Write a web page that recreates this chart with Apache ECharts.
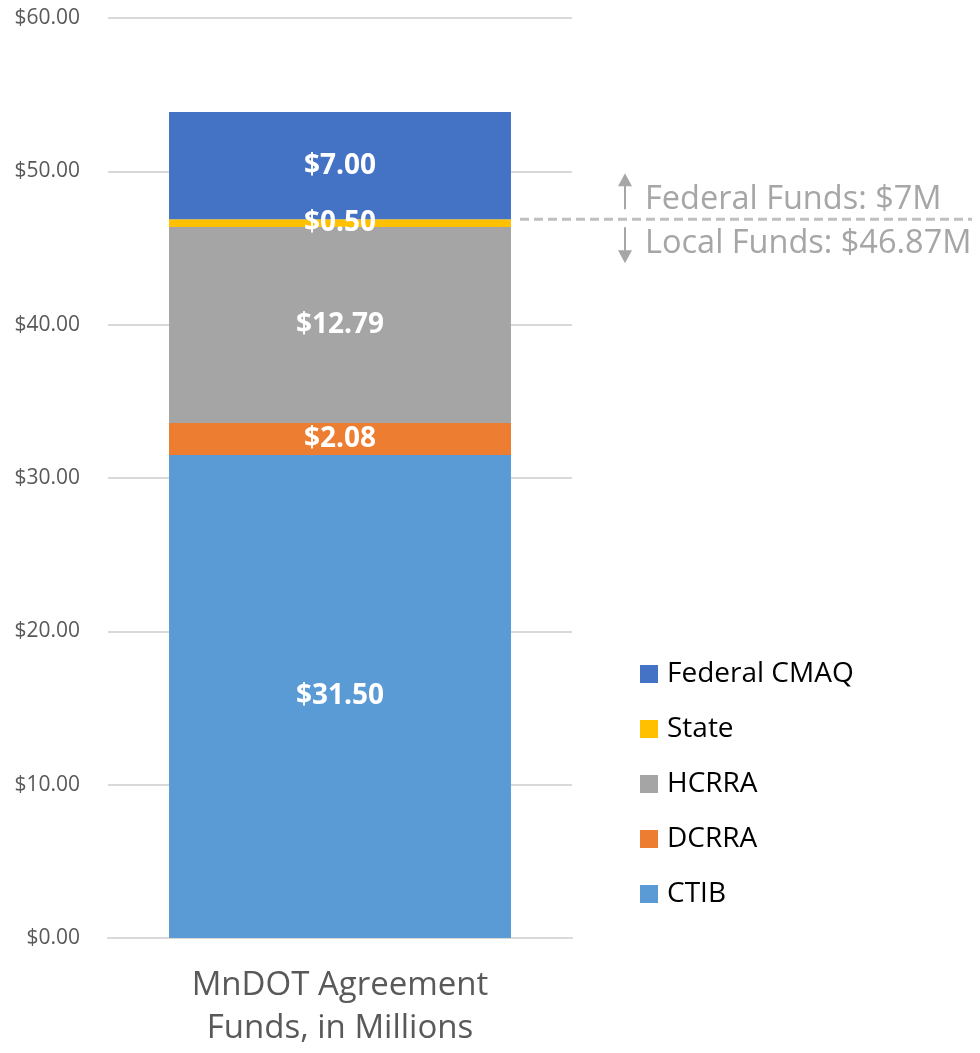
<!DOCTYPE html>
<html>
<head>
<meta charset="utf-8">
<script src="https://cdn.jsdelivr.net/npm/echarts@6/dist/echarts.min.js"></script>
<style>
  html, body { margin: 0; padding: 0; background: #fff; }
  #main { width: 980px; height: 1053px; }
</style>
</head>
<body>
<div id="main"></div>
<script>
// data
var categories = ['MnDOT Agreement\nFunds, in Millions'];
var seriesNames = ['CTIB', 'DCRRA', 'HCRRA', 'State', 'Federal CMAQ'];
var ctib = [31.50];
var dcrra = [2.08];
var hcrra = [12.79];
var state = [0.50];
var federal = [7.00];
var legendOrder = ['Federal CMAQ', 'State', 'HCRRA', 'DCRRA', 'CTIB'];
var colors = ['#5B9BD5', '#ED7D31', '#A5A5A5', '#FFC000', '#4472C4'];
var federalTotal = 7;
var localTotal = 46.87;

var font = '"Open Sans", "Noto Sans", sans-serif';
var values = [ctib, dcrra, hcrra, state, federal];

var myChart = echarts.init(document.getElementById('main'));

var series = seriesNames.map(function (name, i) {
    return {
        name: name,
        type: 'bar',
        stack: 'total',
        barWidth: '73.7%',
        itemStyle: { color: colors[i] },
        label: {
            show: true,
            position: 'inside',
            color: '#fff',
            fontSize: 28,
            fontWeight: 'bold',
            fontFamily: font,
            formatter: function (p) { return '$' + p.value.toFixed(2); }
        },
        data: values[i]
    };
});

myChart.setOption({
    backgroundColor: '#fff',
    animation: false,
    color: colors,
    grid: { left: 108, right: 408, top: 18, bottom: 115 },
    legend: {
        data: legendOrder,
        orient: 'vertical',
        left: 635,
        top: 655,
        itemWidth: 18,
        itemHeight: 18,
        itemGap: 27,
        icon: 'rect',
        textStyle: { fontSize: 28, color: '#000', fontFamily: font, lineHeight: 28, padding: [0, 0, 0, 4] }
    },
    xAxis: {
        type: 'category',
        data: categories,
        axisLine: { lineStyle: { color: '#d9d9d9', width: 2 } },
        axisTick: { show: false },
        axisLabel: { fontSize: 33, color: '#595959', fontFamily: font, lineHeight: 43, margin: 26 }
    },
    yAxis: {
        type: 'value',
        min: 0,
        max: 60,
        interval: 10,
        axisLine: { show: false },
        axisTick: { show: false },
        splitLine: { lineStyle: { color: '#d9d9d9', width: 2 } },
        axisLabel: {
            fontSize: 21, color: '#595959', fontFamily: font, margin: 28,
            formatter: function (v) { return '$' + v.toFixed(2); }
        }
    },
    series: series
});

// annotation: split between federal and local funds
var yLine = myChart.convertToPixel({ yAxisIndex: 0 }, localTotal);
var gray = '#a6a6a6';
myChart.setOption({
    graphic: [
        { type: 'line', shape: { x1: 520, y1: yLine, x2: 972, y2: yLine },
          style: { stroke: '#bfbfbf', lineWidth: 3, lineDash: [9, 5] } },
        { type: 'line', shape: { x1: 625, y1: yLine - 10, x2: 625, y2: yLine - 38 },
          style: { stroke: gray, lineWidth: 2 } },
        { type: 'polygon', shape: { points: [[618, yLine - 33], [632, yLine - 33], [625, yLine - 46]] },
          style: { fill: gray } },
        { type: 'line', shape: { x1: 625, y1: yLine + 8, x2: 625, y2: yLine + 36 },
          style: { stroke: gray, lineWidth: 2 } },
        { type: 'polygon', shape: { points: [[618, yLine + 31], [632, yLine + 31], [625, yLine + 44]] },
          style: { fill: gray } },
        { type: 'text', x: 645, y: yLine - 20,
          style: { text: 'Federal Funds: $' + federalTotal + 'M', fill: gray, fontSize: 32.5, fontFamily: font, verticalAlign: 'middle' } },
        { type: 'text', x: 645, y: yLine + 24,
          style: { text: 'Local Funds: $' + localTotal + 'M', fill: gray, fontSize: 32.5, fontFamily: font, verticalAlign: 'middle' } }
    ]
});
</script>
</body>
</html>
